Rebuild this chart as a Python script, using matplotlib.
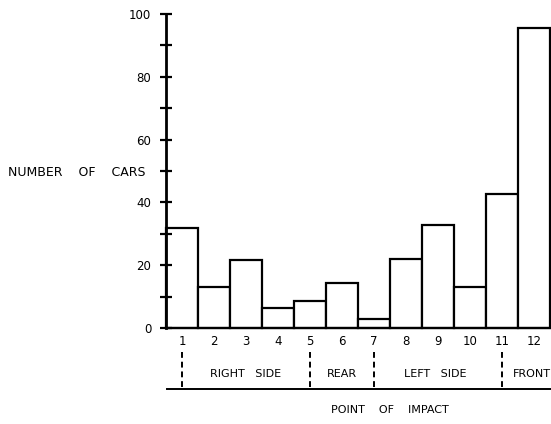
import matplotlib
matplotlib.use("Agg")
import matplotlib.pyplot as plt
from matplotlib.ticker import MultipleLocator

positions = [1, 2, 3, 4, 5, 6, 7, 8, 9, 10, 11, 12]
counts = [32, 13, 21.5, 6.5, 8.5, 14.3, 2.8, 22, 32.8, 13, 42.7, 95.5]
tick_labels = [str(p) for p in positions]
group_names = ["RIGHT   SIDE", "REAR", "LEFT   SIDE", "FRONT"]
group_text_x = [3.0, 6.0, 8.9, 11.35]
separators = [1, 5, 7, 11]

fig = plt.figure(figsize=(5.51, 4.24), dpi=100)
W, H = 551, 424
ax = fig.add_axes([166 / W, (H - 328) / H, 385 / W, 314 / H])

ax.bar(positions, counts, width=1.0, facecolor="white", edgecolor="black",
       linewidth=1.6, clip_on=False)
ax.set_xlim(0.5, 12.53)
ax.set_ylim(0, 100)

for s in ["top", "right"]:
    ax.spines[s].set_visible(False)
ax.spines["left"].set_linewidth(2)
ax.spines["bottom"].set_linewidth(1.6)

ax.yaxis.set_major_locator(MultipleLocator(20))
ax.yaxis.set_minor_locator(MultipleLocator(10))
ax.tick_params(axis="y", which="both", direction="inout", length=9, width=1.6,
               labelsize=8.5, pad=6)
ax.set_xticks(positions)
ax.set_xticklabels(tick_labels)
ax.tick_params(axis="x", length=0, labelsize=8.5, pad=5)

# group separators and labels below axis
for s in separators:
    ax.plot([s, s], [-7.6, -19.1], color="black", linestyle=(0, (3, 2)),
            linewidth=1.4, clip_on=False)
ax.plot([0.52, 12.6], [-19.5, -19.5], color="black", linewidth=1.4, clip_on=False)
for name, x in zip(group_names, group_text_x):
    ha = "left" if name == "FRONT" else "center"
    ax.text(x, -14.6, name, ha=ha, va="center", fontsize=8, clip_on=False)

ax.text(7.5, -26.2, "POINT    OF    IMPACT", ha="center", va="center", fontsize=8,
        clip_on=False)
fig.text(8 / W, (H - 172) / H, "NUMBER    OF    CARS", ha="left", va="center",
         fontsize=9)

fig.savefig("out.png", dpi=100)
